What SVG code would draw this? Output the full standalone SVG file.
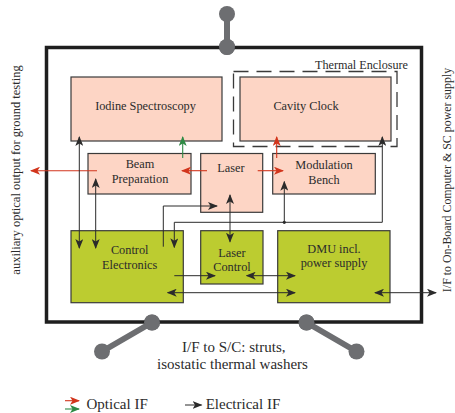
<svg xmlns="http://www.w3.org/2000/svg" width="455" height="413" viewBox="0 0 455 413">
<style>
text{font-family:"Liberation Serif","Times New Roman",serif;fill:#2b2b2b}
.bt{font-size:12.3px;text-anchor:middle}
.cap{font-size:15px;text-anchor:middle}
.leg{font-size:15px}
.opt{fill:#fdd5c5;stroke:#3a3a3a;stroke-width:1.2}
.ele{fill:#bccc30;stroke:#3a3a3a;stroke-width:1.2}
.e{fill:none;stroke:#2b2b2b;stroke-width:1}
.r{fill:none;stroke:#d2351c;stroke-width:1.1}
.g{fill:none;stroke:#2f8a45;stroke-width:1.1}
.strut{stroke:#6d6e71;stroke-width:6;stroke-linecap:round}
.sc{fill:#6d6e71}
</style>
<defs>
<marker id="ab" viewBox="0 0 10 8" refX="9" refY="4" markerWidth="10" markerHeight="8" markerUnits="userSpaceOnUse" orient="auto-start-reverse"><path d="M0,0 L10,4 L0,8 L2.5,4 z" fill="#2b2b2b"/></marker>
<marker id="ar" viewBox="0 0 10 8" refX="9" refY="4" markerWidth="10" markerHeight="8" markerUnits="userSpaceOnUse" orient="auto-start-reverse"><path d="M0,0 L10,4 L0,8 L2.5,4 z" fill="#d2351c"/></marker>
<marker id="ag" viewBox="0 0 10 8" refX="9" refY="4" markerWidth="10" markerHeight="8" markerUnits="userSpaceOnUse" orient="auto-start-reverse"><path d="M0,0 L10,4 L0,8 L2.5,4 z" fill="#2f8a45"/></marker>
</defs>
<rect width="455" height="413" fill="#ffffff"/>

<g id="struts">
<line class="strut" x1="227" y1="14" x2="227" y2="47"/>
<circle class="sc" cx="227" cy="14" r="8"/>
<circle class="sc" cx="227" cy="47" r="8"/>
<line class="strut" x1="152" y1="322.5" x2="102" y2="351.5"/>
<circle class="sc" cx="152" cy="322.5" r="8"/>
<circle class="sc" cx="102" cy="351.5" r="8"/>
<line class="strut" x1="306.5" y1="322.5" x2="356.5" y2="351.5"/>
<circle class="sc" cx="306.5" cy="322.5" r="8"/>
<circle class="sc" cx="356.5" cy="351.5" r="8"/>
</g>

<g id="frame">
<rect x="46.5" y="47.5" width="375" height="274.5" fill="none" stroke="#1e1e1e" stroke-width="3.5"/>
</g>
<circle class="sc" cx="227" cy="47" r="8"/>
<circle class="sc" cx="152" cy="322.5" r="8"/>
<circle class="sc" cx="306.5" cy="322.5" r="8"/>

<g id="thermal-enclosure">
<rect x="233.5" y="71.5" width="163.5" height="75" fill="none" stroke="#3a3a3a" stroke-width="1.3" stroke-dasharray="15 8"/>
<text x="361.5" y="69" style="font-size:12.2px;text-anchor:middle">Thermal Enclosure</text>
</g>

<g id="iodine">
<rect class="opt" x="71" y="77" width="151" height="64"/>
<text class="bt" x="145.5" y="110">Iodine Spectroscopy</text>
</g>
<g id="cavity">
<rect class="opt" x="240" y="77" width="151" height="64"/>
<text class="bt" x="306" y="110">Cavity Clock</text>
</g>
<g id="beam">
<rect class="opt" x="88" y="153.5" width="103" height="40.5"/>
<text class="bt" x="140" y="168.3">Beam</text>
<text class="bt" x="140" y="183.3">Preparation</text>
</g>
<g id="laser">
<rect class="opt" x="200.7" y="153.5" width="62" height="58.8"/>
<text class="bt" x="231" y="171.7">Laser</text>
</g>
<g id="modulation">
<rect class="opt" x="272.7" y="153.5" width="102.6" height="40.5"/>
<text class="bt" x="324" y="169.3">Modulation</text>
<text class="bt" x="324" y="184">Bench</text>
</g>
<g id="control">
<rect class="ele" x="71" y="230.7" width="112.3" height="72"/>
<text class="bt" x="129.7" y="254">Control</text>
<text class="bt" x="129.7" y="268.7">Electronics</text>
</g>
<g id="laser-control">
<rect class="ele" x="200.7" y="230.7" width="62.3" height="53.3"/>
<text class="bt" x="232" y="256.7">Laser</text>
<text class="bt" x="232" y="271">Control</text>
</g>
<g id="dmu">
<rect class="ele" x="277.7" y="230.7" width="112.3" height="72"/>
<text class="bt" x="334" y="252.7">DMU incl.</text>
<text class="bt" x="334" y="266.7">power supply</text>
</g>

<g id="connectors">
<line class="r" x1="97" y1="170.7" x2="31" y2="170.7" marker-end="url(#ar)"/>
<line class="r" x1="207" y1="170.7" x2="182" y2="170.7" marker-end="url(#ar)"/>
<line class="r" x1="257.7" y1="170.7" x2="283" y2="170.7" marker-end="url(#ar)"/>
<line class="r" x1="276.7" y1="158" x2="276.7" y2="137" marker-end="url(#ar)"/>
<line class="g" x1="182.7" y1="158" x2="182.7" y2="137" marker-end="url(#ag)"/>
<line class="e" x1="79.3" y1="137" x2="79.3" y2="248" marker-start="url(#ab)" marker-end="url(#ab)"/>
<line class="e" x1="95.7" y1="179" x2="95.7" y2="248" marker-start="url(#ab)" marker-end="url(#ab)"/>
<polyline class="e" points="163.3,246.7 163.3,206 217,206" marker-end="url(#ab)"/>
<polyline class="e" points="382.3,137 382.3,222.3 174.3,222.3 174.3,247.3" marker-start="url(#ab)" marker-end="url(#ab)"/>
<circle cx="284.3" cy="222.3" r="1.6" fill="#2b2b2b"/>
<line class="e" x1="284.3" y1="222.3" x2="284.3" y2="181.7" marker-end="url(#ab)"/>
<line class="e" x1="230" y1="195" x2="230" y2="241.7" marker-start="url(#ab)" marker-end="url(#ab)"/>
<line class="e" x1="174.3" y1="275.7" x2="215" y2="275.7" marker-end="url(#ab)"/>
<line class="e" x1="246.7" y1="275.7" x2="295" y2="275.7" marker-start="url(#ab)" marker-end="url(#ab)"/>
<line class="e" x1="167.7" y1="292.7" x2="295" y2="292.7" marker-start="url(#ab)" marker-end="url(#ab)"/>
<line class="e" x1="375" y1="292.7" x2="436" y2="292.7" marker-start="url(#ab)" marker-end="url(#ab)"/>
</g>

<g id="labels">
<text transform="translate(19.5,170) rotate(-90)" style="font-size:12.5px;text-anchor:middle">auxiliary optical output for ground testing</text>
<text transform="translate(451,180) rotate(-90)" style="font-size:11.9px;text-anchor:middle">I/F to On-Board Computer &amp; SC power supply</text>
<text class="cap" x="233.8" y="352.3">I/F to S/C: struts,</text>
<text class="cap" x="232.5" y="369.3">isostatic thermal washers</text>
</g>

<g id="legend">
<line class="r" x1="65" y1="400.7" x2="79" y2="400.7" marker-end="url(#ar)"/>
<line class="g" x1="65" y1="409" x2="79" y2="409" marker-end="url(#ag)"/>
<text class="leg" x="86.5" y="409">Optical IF</text>
<line class="e" x1="185" y1="405" x2="201.5" y2="405" marker-end="url(#ab)"/>
<text class="leg" x="205.7" y="409">Electrical IF</text>
</g>
</svg>
